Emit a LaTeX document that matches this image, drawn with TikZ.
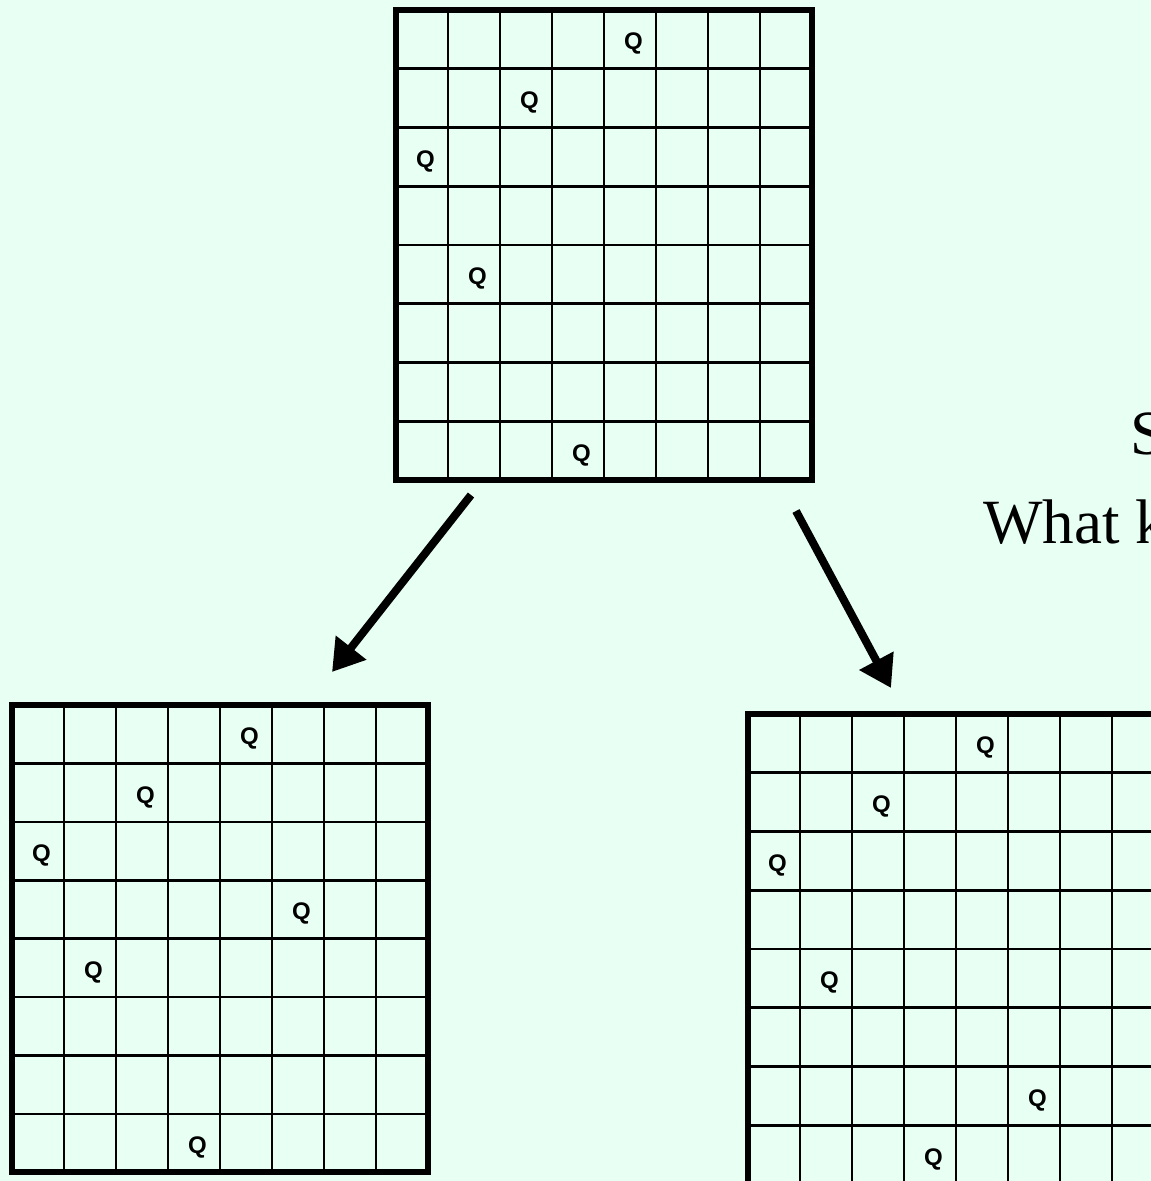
\documentclass[tikz,border=0pt]{standalone}
\usepackage{fontspec}
\setmainfont{Liberation Serif}
\setsansfont{Liberation Sans}
\usetikzlibrary{arrows.meta}
\definecolor{bg}{RGB}{232,255,244}
\newcommand\drawboard[5]{%
  \begin{scope}[shift={(#2,#3)}]
    \foreach \i in {1,...,7} \draw[gridline] (\i*52,0) -- (\i*52,8*#4);
    \foreach \j in {1,...,7} \draw[gridline] (0,\j*#4) -- (416,\j*#4);
    \node[boardframe, minimum height={8*#4 pt}] (#1) at (0,0) {};
    \foreach \r/\c in {#5} \node[queen] at ({(\c+0.5)*52+3.5},{(\r+0.5)*#4+4.5}) {Q};
  \end{scope}}
\begin{document}
\begin{tikzpicture}[x=1pt,y=-1pt,
  gridline/.style={line width=2.6pt, black},
  boardframe/.style={draw, line width=5.5pt, minimum width=416pt, inner sep=0pt, outer sep=0pt, anchor=north west, rectangle},
  queen/.style={font=\fontsize{24}{24}\sffamily\bfseries\selectfont, inner sep=0pt},
  bigarrow/.style={line width=8pt, -{Triangle[length=31pt, width=37pt]}},
  caption/.style={font=\fontsize{63}{63}\selectfont, inner sep=0pt, anchor=base west}]
\useasboundingbox (0,0) rectangle (1151,1181);
\fill[bg] (0,0) rectangle (1151,1181);
\clip (0,0) rectangle (1151,1181);
\drawboard{top}{396}{10}{58.75}{0/4,1/2,2/0,4/1,7/3}
\drawboard{left}{12}{705}{58.4}{0/4,1/2,2/0,3/5,4/1,7/3}
\drawboard{right}{748}{714}{58.75}{0/4,1/2,2/0,4/1,6/5,7/3}
\coordinate (a1s) at (471,495);
\coordinate (a1e) at (332,672);
\coordinate (a2s) at (796,511);
\coordinate (a2e) at (891,688);
\draw[bigarrow] (a1s) -- (a1e);
\draw[bigarrow] (a2s) -- (a2e);
\node[caption] (t1) at (1130,454) {S};
\node[caption] (t2) at (983,543) {What k};
\end{tikzpicture}
\end{document}
